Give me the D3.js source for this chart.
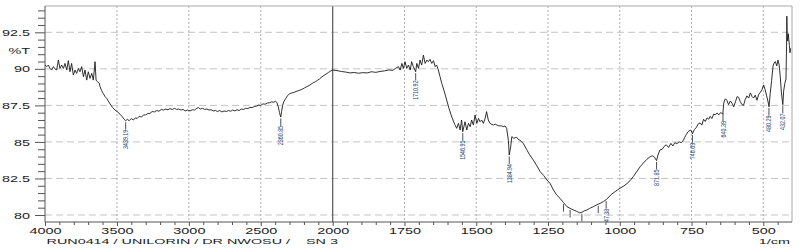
<!DOCTYPE html>
<html><head><meta charset="utf-8">
<script src="https://cdn.jsdelivr.net/npm/d3@7"></script>
<style>body{margin:0;background:#fff}svg{display:block}text{font-family:"Liberation Sans",Arial,sans-serif}</style>
</head><body>
<svg id="chart" width="800" height="249"></svg>
<script>
// ---------- DATA ----------
const spectrum = [
[4000,90.26],[3988,90.15],[3977,90.26],[3965,90.03],[3954,89.92],[3942,90.15],[3930,89.99],[3919,89.92],[3907,90.6],[3896,90.03],
[3884,90.26],[3872,90.03],[3861,90.37],[3849,89.92],[3838,90.56],[3826,89.80],[3815,90.37],[3803,89.58],[3791,89.92],[3780,89.69],
[3768,90.03],[3757,89.80],[3745,90.15],[3733,89.46],[3722,89.92],[3710,89.23],[3699,89.80],[3687,89.35],[3675,89.69],[3664,89.23],
[3652,90.49],[3645,89.23],[3636,89.12],[3622,89.01],[3618,88.8],[3606,88.5],[3594,88.3],[3583,88.1],[3571,87.98],[3560,87.8],
[3548,87.6],[3530,87.35],[3513,87.18],[3495,87.05],[3479,86.9],[3465,86.75],[3450,86.55],[3439,86.45],[3428,86.55],[3415,86.45],
[3400,86.6],[3386,86.5],[3372,86.65],[3360,86.6],[3345,86.75],[3330,86.7],[3315,86.85],[3300,86.85],[3285,86.95],[3270,86.95],
[3255,87.08],[3240,87.05],[3223,87.15],[3208,87.1],[3192,87.22],[3175,87.18],[3160,87.25],[3145,87.2],[3131,87.28],[3115,87.22],
[3100,87.3],[3085,87.22],[3070,87.25],[3055,87.18],[3040,87.22],[3025,87.12],[3010,87.18],[2992,87.12],[2975,87.2],[2960,87.18],
[2945,87.3],[2934,87.35],[2920,87.25],[2905,87.3],[2890,87.22],[2875,87.25],[2860,87.18],[2845,87.2],[2830,87.12],[2815,87.15],
[2800,87.08],[2785,87.15],[2770,87.05],[2755,87.12],[2740,87.08],[2725,87.15],[2710,87.1],[2695,87.18],[2680,87.12],[2665,87.2],
[2650,87.15],[2635,87.25],[2620,87.22],[2605,87.3],[2590,87.28],[2575,87.36],[2560,87.35],[2545,87.42],[2530,87.45],[2515,87.52],
[2500,87.5],[2485,87.6],[2470,87.58],[2455,87.66],[2440,87.68],[2425,87.74],[2410,87.72],[2398,87.78],[2388,87.7],[2378,87.4],
[2370,87.0],[2361,86.7],[2355,87.1],[2348,87.5],[2340,87.75],[2328,87.95],[2315,88.15],[2300,88.3],[2285,88.35],[2270,88.38],
[2255,88.45],[2240,88.5],[2225,88.55],[2210,88.62],[2195,88.7],[2180,88.78],[2165,88.85],[2150,88.95],[2135,89.05],[2120,89.12],
[2105,89.22],[2090,89.32],[2075,89.45],[2060,89.55],[2045,89.65],[2030,89.75],[2015,89.85],[2000,89.92],[1985,89.88],[1970,89.82],
[1955,89.78],[1940,89.72],[1925,89.75],[1910,89.7],[1895,89.74],[1880,89.72],[1865,89.8],[1850,89.76],[1835,89.82],[1820,89.86],
[1805,89.92],[1790,89.9],[1780,90.05],[1771,90.15],[1765,89.92],[1759,90.37],[1754,90.03],[1748,90.49],[1742,90.03],[1736,90.26],
[1730,89.92],[1725,90.49],[1719,90.15],[1711,89.8],[1707,90.37],[1701,90.03],[1696,90.6],[1690,90.26],[1684,90.94],[1678,90.37],
[1672,90.6],[1667,90.49],[1661,90.65],[1655,90.37],[1649,90.56],[1643,90.15],[1638,90.26],[1632,89.92],[1626,89.46],[1620,89.0],
[1612,88.5],[1603,87.87],[1595,87.3],[1585,86.7],[1575,86.2],[1568,85.93],[1562,86.27],[1556,85.81],[1551,86.5],[1547,85.7],
[1539,86.38],[1533,85.81],[1527,86.27],[1521,86.04],[1516,86.5],[1510,86.16],[1504,86.84],[1498,86.27],[1492,86.61],[1487,86.38],
[1481,86.5],[1475,86.27],[1469,86.61],[1464,87.07],[1458,86.5],[1452,86.27],[1446,86.2],[1440,86.16],[1434,86.22],[1429,86.16],
[1423,86.12],[1417,86.09],[1411,86.1],[1406,86.04],[1400,86.09],[1394,85.93],[1388,85.1],[1385,84.1],[1380,84.67],[1376,85.36],
[1369,85.24],[1364,85.3],[1359,85.31],[1352,85.15],[1348,85.13],[1342,85.0],[1336,84.9],[1325,84.5],[1315,84.15],[1301,83.76],
[1290,83.4],[1277,82.96],[1265,82.7],[1254,82.4],[1243,82.17],[1231,81.71],[1219,81.35],[1208,81.14],[1196,80.85],[1184,80.57],
[1173,80.45],[1161,80.34],[1150,80.25],[1140,80.15],[1132,80.18],[1124,80.28],[1115,80.34],[1105,80.45],[1092,80.57],[1080,80.7],
[1068,80.8],[1057,80.92],[1047,81.05],[1030,81.4],[1016,81.6],[999,81.83],[985,82.0],[975,82.15],[964,82.35],[952,82.65],
[940,83.0],[929,83.3],[918,83.55],[906,83.8],[894,83.99],[886,84.05],[879,83.95],[872,83.72],[867,84.1],[860,84.45],
[852,84.5],[845,84.7],[838,84.8],[830,84.62],[822,84.9],[815,84.72],[808,84.95],[801,84.88],[793,85.0],[785,84.95],
[778,85.13],[770,85.45],[762,85.7],[755,85.8],[750,85.75],[747,85.55],[740,85.85],[733,86.0],[726,86.25],[720,86.3],
[714,86.15],[708,86.55],[702,86.4],[696,86.65],[690,86.55],[685,86.75],[679,86.6],[673,86.9],[667,86.85],[661,86.98],
[655,86.85],[649,87.0],[645,86.98],[641,86.9],[638,87.6],[636,87.8],[632,87.95],[627,87.85],[621,87.55],[615,87.8],
[609,87.65],[603,87.4],[597,87.75],[591,88.1],[586,88.05],[580,87.75],[574,87.55],[569,87.5],[563,87.9],[557,88.15],
[551,88.0],[545,88.35],[539,88.1],[534,88.0],[528,88.2],[522,87.85],[516,88.25],[510,88.4],[504,88.6],[499,88.9],
[494,88.6],[489,88.2],[484,87.8],[480,87.4],[476,88.3],[471,89.2],[466,90.2],[462,90.4],[458,90.5],[453,90.2],
[449,90.6],[445,90.3],[441,89.5],[437,88.4],[432,87.55],[429,88.5],[425,89.0],[421,89.3],[419,91.5],[418,93.6],
[417,92.5],[415,91.9],[413,92.4],[411,92.0],[409,91.6],[407,91.1],[405,91.4]
];
const xMajorTicks = [4000,3500,3000,2500,2000,1750,1500,1250,1000,750,500];
const xTickLabels = ["4000","3500","3000","2500","2000","1750","1500","1250","1000","750","500"];
const yMajorTicks = [92.5,90,87.5,85,82.5,80];
const yTickLabels = ["92.5","90","87.5","85","82.5","80"];
const peakWavenumbers = [3439.19,2360.85,1710.92,1546.95,1384.94,1047.38,871.85,746.69,640.39,480.29,432.07];
const peakLabels = ["3439.19","2360.85","1710.92","1546.95","1384.94","1047.38","871.85","746.69","640.39","480.29","432.07"];
const hiddenPeakWavenumbers = [1196,1173,1132,1075];
const yAxisTitle = "%T";
const xAxisTitle = "1/cm";
const footerText = "RUN0414 / UNILORIN / DR NWOSU /    SN 3";

// ---------- LAYOUT ----------
const L = 45, R = 792, T = 6, B = 222;
const svg = d3.select("#chart");
const x = d3.scaleLinear().domain([4000, 2000, 400]).range([L, 332.7, R]);
const y = d3.scaleLinear().domain([79.52, 94.3]).range([B, T]);

svg.append("defs").append("clipPath").attr("id", "plotclip")
  .append("rect").attr("x", L).attr("y", T).attr("width", R - L).attr("height", B - T);

// grid
svg.append("g").selectAll("line").data(yMajorTicks).join("line")
  .attr("x1", L).attr("x2", R).attr("y1", d => y(d)).attr("y2", d => y(d))
  .attr("stroke", "#c4c4c4").attr("stroke-width", 1).attr("stroke-dasharray", "7,4");
svg.append("g").selectAll("line").data(xMajorTicks.filter(d => d !== 4000 && d !== 2000)).join("line")
  .attr("x1", d => x(d)).attr("x2", d => x(d)).attr("y1", T).attr("y2", B)
  .attr("stroke", "#b0b0b0").attr("stroke-width", 1).attr("stroke-dasharray", "2,2");
svg.append("line").attr("x1", x(2000)).attr("x2", x(2000)).attr("y1", T).attr("y2", B)
  .attr("stroke", "#555").attr("stroke-width", 1.2);

// frame
svg.append("path").attr("d", `M${L},${T}H${R}V${B}`).attr("fill", "none").attr("stroke", "#a8a8a8");
svg.append("path").attr("d", `M${L},${T}V${B}H${R}`).attr("fill", "none").attr("stroke", "#555");

// x axis
const XS = 1.7;
const minorX = d3.range(3900, 2000, -100).filter(v => v % 500 !== 0)
  .concat(d3.range(1950, 400, -50).filter(v => v % 250 !== 0));
const gxMinor = svg.append("g").attr("transform", `translate(0,${B})`)
  .call(d3.axisBottom(x).tickValues(minorX).tickSize(3).tickFormat(""));
const gx = svg.append("g").attr("transform", `translate(0,${B})`)
  .call(d3.axisBottom(x).tickValues(xMajorTicks).tickSize(4).tickFormat((d, i) => xTickLabels[i]));
[gxMinor, gx].forEach(g => { g.select(".domain").remove(); g.selectAll("line").attr("stroke", "#555"); });
gx.selectAll("text").attr("y", 11.8).attr("dy", null).attr("transform", `scale(${XS},1)`)
  .attr("font-size", 8.5).attr("fill", "#222").attr("font-family", '"Liberation Sans",Arial,sans-serif');

// y axis
const YS = 1.6;
const minorY = d3.range(80, 94.01, 0.5).filter(v => !yMajorTicks.includes(v));
const gyMinor = svg.append("g").attr("transform", `translate(${L},0)`)
  .call(d3.axisLeft(y).tickValues(minorY).tickSize(7).tickFormat(""));
const gy = svg.append("g").attr("transform", `translate(${L},0)`)
  .call(d3.axisLeft(y).tickValues(yMajorTicks).tickSize(10).tickFormat((d, i) => yTickLabels[i]));
[gyMinor, gy].forEach(g => { g.select(".domain").remove(); g.selectAll("line").attr("stroke", "#555"); });
gy.selectAll("text").attr("x", -15 / YS).attr("dy", "0.35em").attr("transform", `scale(${YS},1)`)
  .attr("font-size", 9).attr("fill", "#222").attr("font-family", '"Liberation Sans",Arial,sans-serif');

// axis titles & footer
function stretched(px, py, str, anchor, fs, sx) {
  return svg.append("g").attr("transform", `translate(${px},${py}) scale(${sx},1)`)
    .append("text").attr("text-anchor", anchor).attr("font-size", fs).attr("fill", "#222")
    .style("white-space", "pre").text(str);
}
stretched(L - 15, y(91.25), yAxisTitle, "end", 9, YS).attr("dy", "0.35em");
stretched(R - 2, 244, xAxisTitle, "end", 8, 1.8);
stretched(46.5, 244, footerText, "start", 8, 1.8);

// spectrum
const asc = spectrum.slice().sort((a, b) => a[0] - b[0]);
const bis = d3.bisector(d => d[0]).left;
function tAt(w) {
  const i = bis(asc, w);
  if (i <= 0) return asc[0][1];
  if (i >= asc.length) return asc[asc.length - 1][1];
  const a = asc[i - 1], b = asc[i];
  return a[1] + (b[1] - a[1]) * (w - a[0]) / (b[0] - a[0]);
}
const plot = svg.append("g").attr("clip-path", "url(#plotclip)");
plot.append("path").datum(spectrum)
  .attr("d", d3.line().x(d => x(d[0])).y(d => y(d[1])))
  .attr("fill", "none").attr("stroke", "#1a1a1a").attr("stroke-width", 0.9).attr("stroke-linejoin", "round");

// peak labels
const peaks = plot.append("g");
peakWavenumbers.forEach((w, i) => {
  const px = x(w), py = y(tAt(w));
  peaks.append("line").attr("x1", px).attr("x2", px).attr("y1", py + 1.5).attr("y2", py + 9)
    .attr("stroke", "#222").attr("stroke-width", 0.8);
  const s = peakLabels[i];
  peaks.append("text").attr("transform", `translate(${px},${py + 9}) rotate(-90)`)
    .attr("text-anchor", "end").attr("dy", "0.36em").attr("font-size", 7)
    .attr("textLength", s.length * 2.75).attr("lengthAdjust", "spacingAndGlyphs")
    .attr("fill", "#2d4777").text(s);
});
hiddenPeakWavenumbers.forEach(w => {
  const px = x(w), py = y(tAt(w));
  peaks.append("line").attr("x1", px).attr("x2", px).attr("y1", py + 1.5).attr("y2", py + 9)
    .attr("stroke", "#222").attr("stroke-width", 0.8);
});
</script>
</body></html>
